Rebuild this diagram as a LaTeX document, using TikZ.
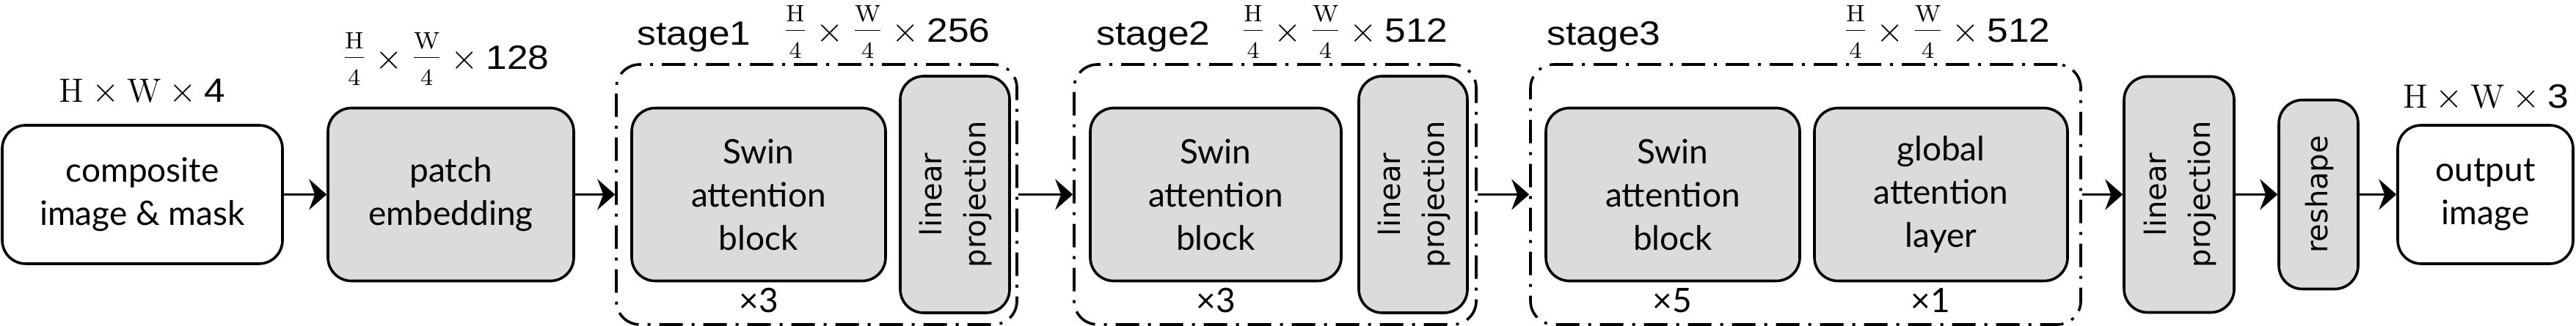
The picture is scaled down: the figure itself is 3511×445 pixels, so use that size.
\documentclass[tikz,border=0pt]{standalone}
\usepackage{fontspec}
\newfontfamily\lato{Lato}
\newfontfamily\arialw[FakeStretch=1.12]{Liberation Sans}
\newfontfamily\dejavu{DejaVu Sans}
\usetikzlibrary{arrows.meta}
\newcommand{\qfrac}[1]{\raisebox{1.1pt}{$\frac{\rule[-2.3pt]{0pt}{2.3pt}\mathrm{#1}}{\rule{0pt}{8.8pt}4}$}}
\newcommand{\dimfrac}[1]{$\qfrac{H}\times\qfrac{W}\times\mbox{\arialw #1}$}
\newcommand{\dimfull}[1]{$\mathrm{H}\times\mathrm{W}\times\mbox{\arialw #1}$}
\newcommand{\vlabel}[1]{\rotatebox{90}{\begin{tabular}{@{}c@{}}#1\end{tabular}}}
\begin{document}
\begin{tikzpicture}[x=0.25pt,y=-0.25pt,
  box/.style={draw, line width=0.9pt, rounded corners=8pt, inner sep=0pt, align=center,
    font=\lato\fontsize{11.5}{14.75}\selectfont},
  gbox/.style={box, fill=black!14},
  wbox/.style={box, fill=white},
  vbox/.style={box, fill=black!14, font=\dejavu\fontsize{10}{15}\selectfont},
  stagebox/.style={draw, line width=0.9pt, rounded corners=8pt, inner sep=0pt,
    dash pattern=on 8pt off 3pt on 1pt off 3pt, minimum height=88.75pt},
  arr/.style={-{Stealth[length=6pt,width=10.5pt,inset=2pt]}, line width=0.75pt},
  stagelbl/.style={anchor=base west, inner sep=0pt, font=\arialw\fontsize{11.5}{14}\selectfont},
  dimlbl/.style={anchor=base, inner sep=0pt, font=\fontsize{11.5}{14}\selectfont},
  replbl/.style={anchor=base, inner sep=0pt, font=\lato\fontsize{11.5}{14}\selectfont},
]
\useasboundingbox (0,0) rectangle (3511,445);

% stage containers
\node[stagebox, minimum width=136.5pt] (S1) at (1113,265.5) {};
\node[stagebox, minimum width=137pt] (S2) at (1738,265.5) {};
\node[stagebox, minimum width=187.5pt] (S3) at (2461,265.5) {};

% blocks
\node[wbox, minimum width=95.5pt, minimum height=47.25pt] (comp) at (194,265.5) {composite\\image \& mask};
\node[gbox, minimum width=83.75pt, minimum height=59pt] (patch) at (614.5,265.5) {patch\\embedding};

\node[gbox, minimum width=86.5pt, minimum height=59pt] (swin1) at (1034,265.5) {Swin\\attention\\block};
\node[vbox, minimum width=37.25pt, minimum height=80.75pt] (lp1) at (1301.5,265.5) {\vlabel{linear\\projection}};

\node[gbox, minimum width=85.5pt, minimum height=59pt] (swin2) at (1657,265.5) {Swin\\attention\\block};
\node[vbox, minimum width=37pt, minimum height=80.75pt] (lp2) at (1926,265.5) {\vlabel{linear\\projection}};

\node[gbox, minimum width=86.5pt, minimum height=59pt] (swin3) at (2280,265.5) {Swin\\attention\\block};
\node[gbox, minimum width=86.25pt, minimum height=59pt] (glob) at (2645.5,265.5) {global\\attention\\layer};

\node[vbox, minimum width=37.5pt, minimum height=80.5pt] (lp3) at (2970,265.5) {\vlabel{linear\\projection}};
\node[vbox, minimum width=27pt, minimum height=64.5pt] (resh) at (3160,265.5) {\vlabel{reshape}};
\node[wbox, minimum width=59.75pt, minimum height=47.25pt] (out) at (3387.5,265.5) {output\\image};

% arrows
\draw[arr] (comp) -- (patch);
\draw[arr] (patch) -- (S1);
\draw[arr] (S1) -- (S2);
\draw[arr] (S2) -- (S3);
\draw[arr] (S3) -- (lp3);
\draw[arr] (lp3) -- (resh);
\draw[arr] (resh) -- (out);

% labels
\node[dimlbl] (d0) at (194,140) {\dimfull{4}};
\node[dimlbl] (d1) at (607,95) {\dimfrac{128}};
\node[stagelbl] (st1) at (868,62) {stage1};
\node[dimlbl] (d2) at (1208,58) {\dimfrac{256}};
\node[stagelbl] (st2) at (1494,62) {stage2};
\node[dimlbl] (d3) at (1832,58) {\dimfrac{512}};
\node[stagelbl] (st3) at (2108,62) {stage3};
\node[dimlbl] (d4) at (2653,58) {\dimfrac{512}};
\node[dimlbl] (d5) at (3388,148) {\dimfull{3}};

\node[replbl] (r1) at (1034,427) {×3};
\node[replbl] (r2) at (1657,427) {×3};
\node[replbl] (r3) at (2279,427) {×5};
\node[replbl] (r4) at (2631,427) {×1};
\end{tikzpicture}
\end{document}
